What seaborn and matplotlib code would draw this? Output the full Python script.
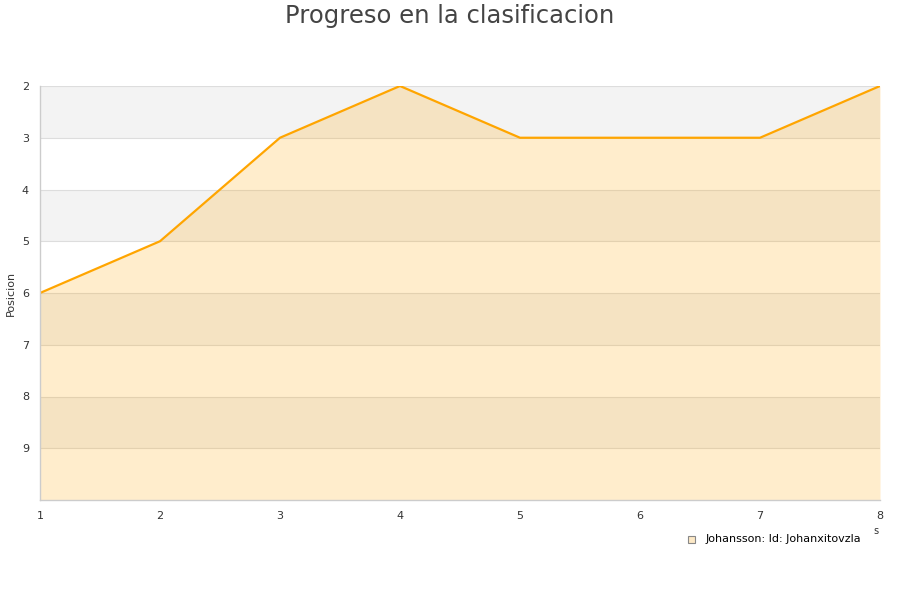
import matplotlib
matplotlib.use('Agg')
import matplotlib.pyplot as plt
import numpy as np
import pandas as pd
import seaborn as sns
from matplotlib.patches import Rectangle

jornadas = [1, 2, 3, 4, 5, 6, 7, 8]
posicion = [6, 5, 3, 2, 3, 3, 3, 2]
serie = 'Johansson: Id: Johanxitovzla'

sns.set_style("white")
plt.rcParams['font.family'] = ['DejaVu Sans']

df = pd.DataFrame({'jornada': jornadas, 'posicion': posicion})

fig = plt.figure(figsize=(9, 6), dpi=100)
ax = fig.add_axes([40 / 900, 100 / 600, 840 / 900, 414 / 600])

# alternating horizontal bands
for k in range(2, 10, 2):
    ax.axhspan(k, k + 1, color='#f3f3f3', zorder=0, lw=0)
for k in range(2, 10):
    ax.axhline(k, color='#dddddd', lw=0.8, zorder=0.5)

ax.fill_between(df['jornada'], df['posicion'], 10, color='orange', alpha=0.2,
                lw=0, zorder=1)
sns.lineplot(data=df, x='jornada', y='posicion', color='orange', lw=1.6,
             ax=ax, zorder=2)

ax.set_xlim(1, 8)
ax.set_ylim(10, 2)
ax.set_yticks(range(2, 10))
ax.set_xticks(jornadas)
ax.tick_params(length=0, labelsize=8, colors='#333333', pad=8)
ax.set_xlabel('')
ax.set_ylabel('')
for side in ['top', 'right']:
    ax.spines[side].set_visible(False)
for side in ['left', 'bottom']:
    ax.spines[side].set_color('#cccccc')
    ax.spines[side].set_linewidth(1)

fig.text(11 / 900, 1 - 293 / 600, 'Posicion', rotation=90, ha='center',
         va='center', fontsize=8, color='#333333')
fig.text(0.5, 1 - 16 / 600, 'Progreso en la clasificacion', ha='center',
         va='center', fontsize=17.5, color='#444444')

# legend
fig.patches.append(Rectangle((688 / 900, 1 - 543 / 600), 7 / 900, 7 / 600,
                             transform=fig.transFigure, facecolor='#fde9c6',
                             edgecolor='#888888', lw=0.8))
fig.text(706 / 900, 1 - 539 / 600, serie, fontsize=8, va='center',
         color='#000000')
fig.text(876 / 900, 1 - 531 / 600, 's', fontsize=7, va='center', ha='center',
         color='#333333')

fig.savefig('out.png', dpi=100)
